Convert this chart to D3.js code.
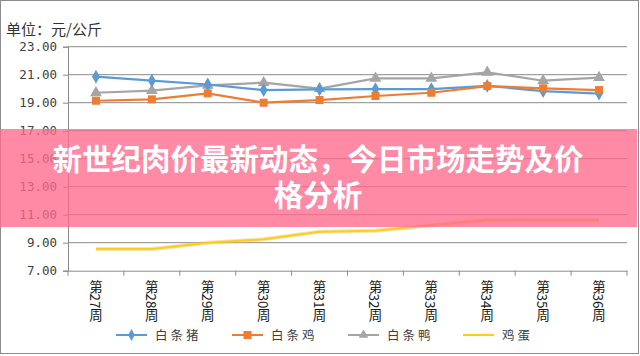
<!DOCTYPE html>
<html><head><meta charset="utf-8">
<script src="https://cdn.jsdelivr.net/npm/d3@7"></script>
<style>body{margin:0;background:#fff}svg{display:block}</style>
</head><body>
<svg id="c" width="640" height="356"></svg>
<script>
const weeks = ["第27周","第28周","第29周","第30周","第31周","第32周","第33周","第34周","第35周","第36周"];
const pork = [20.86, 20.57, 20.30, 19.90, 19.95, 19.97, 19.97, 20.20, 19.83, 19.65];
const chicken = [19.14, 19.24, 19.67, 19.00, 19.19, 19.48, 19.71, 20.19, 20.03, 19.90];
const duck = [19.71, 19.86, 20.24, 20.43, 20.00, 20.74, 20.74, 21.17, 20.57, 20.79];
const egg = [8.55, 8.55, 9.00, 9.24, 9.79, 9.86, 10.25, 10.62, 10.60, 10.60];
const seriesNames = ["白条猪","白条鸡","白条鸭","鸡蛋"];
const yTicks = [7, 9, 11, 13, 15, 17, 19, 21, 23];
const unitLabel = "单位：元/公斤";
const titleLines = ["新世纪肉价最新动态，今日市场走势及价", "格分析"];

const svg = d3.select("#c");
const L = 68, R = 627, T = 46.7, B = 270.7;
const x = d3.scaleBand().domain(weeks).range([L, R]);
const y = d3.scaleLinear().domain([7, 23]).range([B, T]);
const grid = "#8a8a8a";

// outer border
svg.append("rect").attr("x",0.5).attr("y",0.5).attr("width",638).attr("height",353)
  .attr("fill","#fff").attr("stroke","#8c8c8c");

// gridlines
svg.append("g").selectAll("line").data(yTicks.slice(1)).join("line")
  .attr("x1", L).attr("x2", R).attr("y1", d => y(d)).attr("y2", d => y(d))
  .attr("stroke", grid).attr("stroke-width", 1);

// y axis
const yAxis = svg.append("g").attr("transform", `translate(${L},0)`)
  .call(d3.axisLeft(y).tickValues(yTicks).tickSize(5).tickPadding(6).tickFormat(d3.format(".2f")));
yAxis.select(".domain").attr("stroke", grid);
yAxis.selectAll(".tick line").attr("stroke", grid);
yAxis.selectAll("text").attr("font-family","'DejaVu Sans Mono', monospace").attr("font-size",12.5).attr("fill","#404040");

// x axis
const xAxis = svg.append("g").attr("transform", `translate(0,${B})`)
  .call(d3.axisBottom(x).tickSize(0).tickFormat(""));
xAxis.select(".domain").attr("stroke", grid);
svg.append("g").selectAll("line").data(d3.range(weeks.length + 1)).join("line")
  .attr("x1", i => L + i * x.step()).attr("x2", i => L + i * x.step())
  .attr("y1", B).attr("y2", B + 5).attr("stroke", grid);
svg.append("g").selectAll("text").data(weeks).join("text")
  .attr("x", d => x(d) + x.bandwidth()/2).attr("y", 280)
  .attr("writing-mode","tb")
  .style("writing-mode","vertical-rl")
  .attr("font-family","'Noto Sans CJK SC', sans-serif").attr("font-size",13.5)
  .attr("fill","#1a1a1a").text(d => d);

// unit label
svg.append("text").attr("x",6).attr("y",35).attr("font-family","'Noto Sans CJK SC', sans-serif")
  .attr("font-size",15).attr("fill","#333").text(unitLabel);

const line = d3.line().x((d,i) => x(weeks[i]) + x.bandwidth()/2).y(d => y(d));
const cx = i => x(weeks[i]) + x.bandwidth()/2;

// egg line (glow + yellow)
svg.append("path").datum(egg).attr("d", line).attr("fill","none").attr("stroke","#e8c45a").attr("stroke-width",4).attr("opacity",0.45);
svg.append("path").datum(egg).attr("d", line).attr("fill","none").attr("stroke","#ffcc1a").attr("stroke-width",2);

// duck (gray, triangle)
const colors = ["#5b9bd5","#ed7d31","#a5a5a5","#ffc000"];
svg.append("path").datum(duck).attr("d", line).attr("fill","none").attr("stroke",colors[2]).attr("stroke-width",2.2);
svg.append("g").selectAll("path").data(duck).join("path")
  .attr("d", d3.symbol(d3.symbolTriangle, 60)).attr("transform",(d,i)=>`translate(${cx(i)},${y(d)})`)
  .attr("fill",colors[2]);
// pork (blue, diamond)
svg.append("path").datum(pork).attr("d", line).attr("fill","none").attr("stroke",colors[0]).attr("stroke-width",2.2);
svg.append("g").selectAll("path").data(pork).join("path")
  .attr("d", d3.symbol(d3.symbolDiamond, 55)).attr("transform",(d,i)=>`translate(${cx(i)},${y(d)})`)
  .attr("fill",colors[0]);
// chicken (orange, square)
svg.append("path").datum(chicken).attr("d", line).attr("fill","none").attr("stroke",colors[1]).attr("stroke-width",2.2);
svg.append("g").selectAll("rect").data(chicken).join("rect")
  .attr("x",(d,i)=>cx(i)-4).attr("y",d=>y(d)-4).attr("width",8).attr("height",8)
  .attr("fill",colors[1]);

// legend
const legX = [116, 232, 348, 463];
const lg = svg.append("g");
seriesNames.forEach((n,i) => {
  const g = lg.append("g").attr("transform",`translate(${legX[i]},335)`);
  g.append("line").attr("x1",0).attr("x2",31).attr("y1",0).attr("y2",0)
    .attr("stroke", i===3 ? "#ffcc1a" : colors[i]).attr("stroke-width",2);
  if (i===0) g.append("path").attr("d", d3.symbol(d3.symbolDiamond, 40)).attr("transform","translate(15.5,0)").attr("fill",colors[0]);
  if (i===1) g.append("rect").attr("x",11.5).attr("y",-4).attr("width",8).attr("height",8).attr("fill",colors[1]);
  if (i===2) g.append("path").attr("d", d3.symbol(d3.symbolTriangle, 40)).attr("transform","translate(15.5,0)").attr("fill",colors[2]);
  g.append("text").attr("x",39).attr("y",0).attr("dy","0.36em")
    .attr("font-family","'Noto Sans CJK SC', sans-serif").attr("font-size",12.5).attr("letter-spacing",3)
    .attr("fill","#404040").text(n);
});

// banner overlay
svg.append("rect").attr("x",0).attr("y",129).attr("width",637).attr("height",98)
  .attr("fill","rgba(255,105,140,0.78)");
svg.append("g").selectAll("text").data(titleLines).join("text")
  .attr("x",318).attr("y",(d,i)=>159 + i*36).attr("dy","0.36em")
  .attr("text-anchor","middle").attr("font-family","'Noto Sans CJK SC', sans-serif")
  .attr("font-weight",700).attr("font-size",29.5).attr("fill","#fff").text(d=>d);
</script>
</body></html>
